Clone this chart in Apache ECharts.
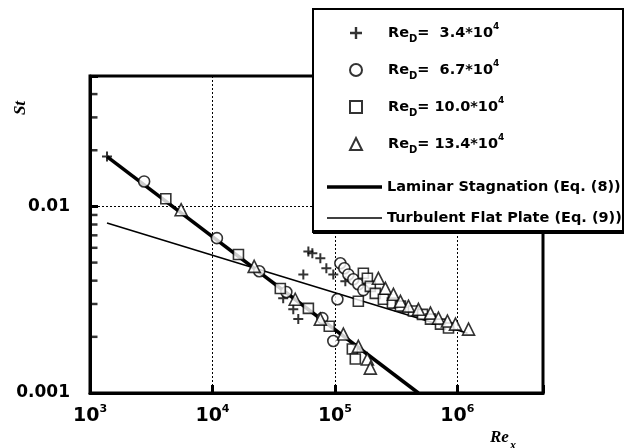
<!DOCTYPE html>
<html><head><meta charset="utf-8">
<script src="https://cdn.jsdelivr.net/npm/echarts@6/dist/echarts.min.js"></script>
<style>html,body{margin:0;padding:0;background:#fff}#c{width:626px;height:448px}</style>
</head><body><div id="c"></div>
<script>
// Series names
const seriesNames = ['Re_D = 3.4*10^4', 'Re_D = 6.7*10^4', 'Re_D = 10.0*10^4', 'Re_D = 13.4*10^4',
  'Laminar Stagnation (Eq. (8))', 'Turbulent Flat Plate (Eq. (9))'];
const legendValues = ['=  3.4*10', '=  6.7*10', '= 10.0*10', '= 13.4*10'];

// Data: [Re_x, St]
const dataReD34 = [[1377,0.0185],[37800,0.00322],[45700,0.00281],[50200,0.00249],[55200,0.00432],
  [60700,0.00574],[65400,0.00561],[76000,0.00527],[85100,0.00466],[97000,0.00432],[121600,0.00397]];
const dataReD67 = [[2767,0.01361],[10870,0.00676],[24100,0.00449],[40100,0.00348],[78900,0.00252],
  [97000,0.00190],[104800,0.00318],[110700,0.00496],[119300,0.00466],[128700,0.00432],[141300,0.00407],
  [155300,0.00383],[170600,0.00356]];
const dataReD100 = [[4160,0.0110],[16300,0.00552],[35800,0.00363],[60700,0.00284],[89900,0.00228],
  [138700,0.00172],[146700,0.00152],[155300,0.00310],[170600,0.00438],[184000,0.00412],[194500,0.00373],
  [213600,0.00342],[248600,0.00318],[294600,0.00303],[342700,0.00292],[437600,0.00275],[518400,0.00264],
  [602600,0.00249],[727600,0.00234],[845900,0.00223]];
const dataReD134 = [[5546,0.0096],[21900,0.00477],[47400,0.00318],[76000,0.00249],[117200,0.00207],
  [155300,0.00178],[184000,0.00152],[194500,0.00136],[226400,0.00412],[258300,0.00364],[300400,0.00338],
  [342700,0.00310],[398400,0.00292],[480700,0.00281],[602600,0.00268],[700400,0.00252],[829200,0.00243],
  [964200,0.00234],[1233000,0.00220]];
const laminarLine = [[1377,0.0185],[480000,0.001]];
const turbulentLine = [[1377,0.00815],[1210000,0.00209]];

// Axis ranges and tick values
const xMin = 1000, xMax = 5e6;
const yMin = 0.001, yMax = 0.05;
const yMinorTicks = [0.002,0.003,0.004,0.005,0.006,0.007,0.008,0.009,0.02,0.03,0.04];
const yTickLabels = {'-2':'0.01','-3':'0.001'};

const plusPath = 'path://M-1,-5h2v4h4v2h-4v4h-2v-4h-4v-2h4z';
const FONT = 'DejaVu Sans';

const chart = echarts.init(document.getElementById('c'), null, {renderer:'canvas'});

function scatter(name, data, symbol, size, filled) {
  return {
    name, type:'scatter', data, symbol, symbolSize:size, z:5,
    itemStyle: filled ? {color:'#000', borderWidth:0} : {color:'#fff', borderColor:'#000', borderWidth:1.6}
  };
}
const richLegend = {
  re:{fontFamily:FONT,fontWeight:'bold',fontSize:14.5,lineHeight:22,color:'#000'},
  sub:{fontFamily:FONT,fontWeight:'bold',fontSize:10,lineHeight:11,verticalAlign:'bottom',color:'#000'},
  t:{fontFamily:FONT,fontWeight:'bold',fontSize:14.5,lineHeight:22,color:'#000'},
  sup:{fontFamily:FONT,fontWeight:'bold',fontSize:9,lineHeight:12,verticalAlign:'top',color:'#000'}
};
const lineLegendText = {fontFamily:FONT, fontWeight:'bold', fontSize:14.5, color:'#000', lineHeight:22};

chart.setOption({
  animation:false,
  backgroundColor:'#fff',
  grid:{left:90, right:83, top:76, bottom:55, show:true, borderColor:'#000', borderWidth:3, backgroundColor:'transparent'},
  xAxis:{
    type:'log', logBase:10, min:xMin, max:xMax,
    axisLine:{show:true, lineStyle:{color:'#000', width:3}},
    axisTick:{show:true, inside:true, length:8, lineStyle:{color:'#000', width:3}},
    splitLine:{show:true, lineStyle:{color:'#000', width:1, type:[2,2]}},
    minorTick:{show:false},
    axisLabel:{
      margin:11, color:'#000',
      formatter:function(v){
        const k = Math.round(Math.log10(v));
        if (Math.abs(Math.log10(v) - k) > 1e-6) return '';
        return '{b|10}{s|' + k + '}';
      },
      rich:{
        b:{fontFamily:FONT,fontWeight:'bold',fontSize:19,lineHeight:24,color:'#000'},
        s:{fontFamily:FONT,fontWeight:'bold',fontSize:11,lineHeight:12,verticalAlign:'top',color:'#000'}
      }
    }
  },
  yAxis:{
    type:'log', logBase:10, min:yMin, max:yMax,
    axisLine:{show:true, lineStyle:{color:'#000', width:3}},
    axisTick:{show:true, inside:true, length:8, lineStyle:{color:'#000', width:3}},
    splitLine:{show:true, lineStyle:{color:'#000', width:1, type:[2,2]}},
    axisLabel:{
      margin:20, color:'#000', fontFamily:FONT, fontWeight:'bold', fontSize:17,
      formatter:function(v){
        const k = Math.round(Math.log10(v));
        if (Math.abs(Math.log10(v) - k) > 1e-6) return '';
        return yTickLabels[String(k)] || '';
      }
    }
  },
  legend:[{
    data:seriesNames.slice(0,4), orient:'vertical', left:344, top:17, itemWidth:12, itemHeight:12,
    itemGap:15, selectedMode:false, z:60,
    formatter:function(name){
      const i = seriesNames.indexOf(name);
      return '{re|Re}{sub|D}{t|' + legendValues[i] + '}{sup|4}';
    },
    textStyle:{rich:richLegend, padding:[0,0,0,21]}
  },{
    data:[{name:seriesNames[4], icon:'rect'}], orient:'vertical', left:322, top:171, itemWidth:55, itemHeight:3.5,
    selectedMode:false, z:60, textStyle:lineLegendText
  },{
    data:[{name:seriesNames[5], icon:'rect'}], orient:'vertical', left:322, top:202, itemWidth:55, itemHeight:1.6,
    selectedMode:false, z:60, textStyle:lineLegendText
  }],
  graphic:[
    {type:'rect', z:50, shape:{x:313, y:9, width:310, height:223}, style:{fill:'#fff', stroke:'#000', lineWidth:2}},
    {type:'line', z:51, shape:{x1:313, y1:232, x2:624, y2:232}, style:{stroke:'#000', lineWidth:4}},
    {type:'text', z:51, x:21, y:108, rotation:Math.PI/2,
      style:{text:'St', fontFamily:'Liberation Serif', fontStyle:'italic', fontWeight:'bold', fontSize:17, fill:'#000', align:'center', verticalAlign:'middle'}},
    {type:'text', z:51, x:490, y:428,
      style:{text:'{a|Re}{b|x}', rich:{
        a:{fontFamily:'Liberation Serif', fontStyle:'italic', fontWeight:'bold', fontSize:17, lineHeight:20, fill:'#000'},
        b:{fontFamily:'Liberation Serif', fontStyle:'italic', fontWeight:'bold', fontSize:12, lineHeight:12, verticalAlign:'bottom', padding:[0,0,-4,1], fill:'#000'}
      }}}
  ],
  series:[
    scatter(seriesNames[0], dataReD34, plusPath, 10, true),
    scatter(seriesNames[1], dataReD67, 'circle', 11, false),
    scatter(seriesNames[2], dataReD100, 'rect', 10, false),
    scatter(seriesNames[3], dataReD134, 'triangle', 12, false),
    {name:seriesNames[4], type:'line', data:laminarLine, symbol:'none', z:3, lineStyle:{color:'#000', width:3.5}, itemStyle:{color:'#000'}},
    {name:seriesNames[5], type:'line', data:turbulentLine, symbol:'none', z:3, lineStyle:{color:'#000', width:1.6}, itemStyle:{color:'#000'}},
    {name:'yMinorTicks', type:'scatter', silent:true, z:4, clip:false,
      data:yMinorTicks.map(v => [xMin, v]), symbol:'rect', symbolSize:[7,2.5], symbolOffset:[4,0],
      itemStyle:{color:'#000'}}
  ]
});
</script>
</body></html>
